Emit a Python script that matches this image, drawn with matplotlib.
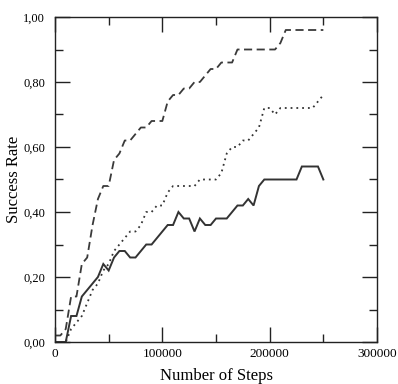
import numpy as np
import matplotlib
matplotlib.use("Agg")
import matplotlib.pyplot as plt
from matplotlib.ticker import MultipleLocator, FuncFormatter

steps = list(range(0, 250001, 5000))

solid = [0, 0, 0, 0.08, 0.08, 0.14, 0.16, 0.18, 0.20, 0.24,
         0.22, 0.26, 0.28, 0.28, 0.26, 0.26, 0.28, 0.30, 0.30, 0.32,
         0.34, 0.36, 0.36, 0.40, 0.38, 0.38, 0.34, 0.38, 0.36, 0.36,
         0.38, 0.38, 0.38, 0.40, 0.42, 0.42, 0.44, 0.42, 0.48, 0.50,
         0.50, 0.50, 0.50, 0.50, 0.50, 0.50, 0.54, 0.54, 0.54, 0.54,
         0.50]

dashed = [0.02, 0.02, 0.04, 0.14, 0.14, 0.24, 0.26, 0.36, 0.44, 0.48,
          0.48, 0.56, 0.58, 0.62, 0.62, 0.64, 0.66, 0.66, 0.68, 0.68,
          0.68, 0.74, 0.76, 0.76, 0.78, 0.78, 0.80, 0.80, 0.82, 0.84,
          0.84, 0.86, 0.86, 0.86, 0.90, 0.90, 0.90, 0.90, 0.90, 0.90,
          0.90, 0.90, 0.92, 0.96, 0.96, 0.96, 0.96, 0.96, 0.96, 0.96,
          0.96]

dotted = [0, 0, 0, 0.04, 0.06, 0.08, 0.12, 0.16, 0.18, 0.22,
          0.24, 0.28, 0.30, 0.32, 0.34, 0.34, 0.36, 0.40, 0.40, 0.42,
          0.42, 0.46, 0.48, 0.48, 0.48, 0.48, 0.48, 0.50, 0.50, 0.50,
          0.50, 0.52, 0.58, 0.60, 0.60, 0.62, 0.62, 0.64, 0.66, 0.72,
          0.72, 0.70, 0.72, 0.72, 0.72, 0.72, 0.72, 0.72, 0.72, 0.74,
          0.76]

x_ticks = [0, 100000, 200000, 300000]
y_ticks = [0.0, 0.2, 0.4, 0.6, 0.8, 1.0]

plt.rcParams['font.family'] = ['Liberation Serif', 'DejaVu Serif']

fig = plt.figure(figsize=(3.98, 3.84), dpi=100)
ax = fig.add_axes([55/398, 42/384, 322/398, 325/384])

col = '#333333'
ax.plot(steps, solid, color=col, lw=1.4, solid_joinstyle='miter')
ax.plot(steps, dashed, color='#3a3a3a', lw=1.3, dashes=(4.5, 2.5))
ax.plot(steps, dotted, color=col, lw=1.3, linestyle=(0, (1, 2.2)))

ax.set_xlim(0, 300000)
ax.set_ylim(0, 1.0)
ax.set_xticks(x_ticks)
ax.set_yticks(y_ticks)
ax.xaxis.set_minor_locator(MultipleLocator(50000))
ax.yaxis.set_minor_locator(MultipleLocator(0.1))
ax.xaxis.set_major_formatter(FuncFormatter(lambda v, p: f"{int(v)}"))
ax.yaxis.set_major_formatter(FuncFormatter(lambda v, p: f"{v:.2f}".replace('.', ',')))

ax.tick_params(which='both', direction='in', top=True, right=True, width=1.0, color='#222222')
ax.tick_params(which='major', length=11)
ax.tick_params(which='minor', length=6)
ax.tick_params(axis='y', which='major', pad=7, labelsize=9)
ax.tick_params(axis='x', which='major', pad=4, labelsize=9.5)
for s in ax.spines.values():
    s.set_linewidth(1.0)
    s.set_color('#222222')

ax.set_xlabel('Number of Steps', fontsize=12, labelpad=6)
ax.set_ylabel('Success Rate', fontsize=12, labelpad=1)

fig.savefig('out.png', dpi=100)
